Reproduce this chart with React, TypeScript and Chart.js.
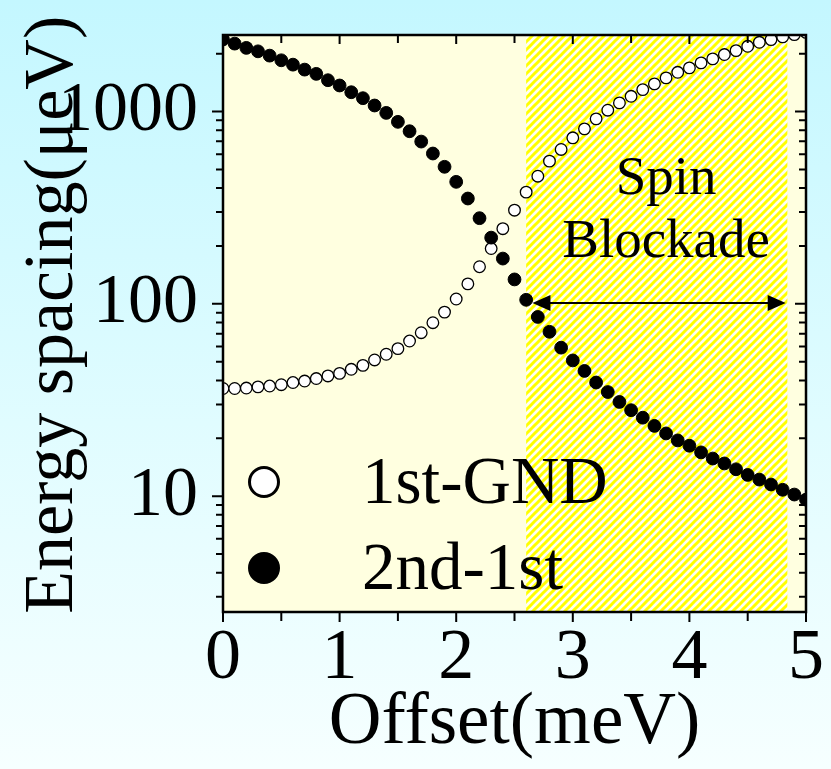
import React, { useEffect, useRef } from "react";
import { Chart, registerables } from "chart.js";

Chart.register(...registerables);

// ---- data ----
const OFFSET = [
  0, 0.1, 0.2, 0.3, 0.4, 0.5, 0.6, 0.7, 0.8, 0.9,
  1.0, 1.1, 1.2, 1.3, 1.4, 1.5, 1.6, 1.7, 1.8, 1.9,
  2.0, 2.1, 2.2, 2.3, 2.4, 2.5, 2.6, 2.7, 2.8, 2.9,
  3.0, 3.1, 3.2, 3.3, 3.4, 3.5, 3.6, 3.7, 3.8, 3.9,
  4.0, 4.1, 4.2, 4.3, 4.4, 4.5, 4.6, 4.7, 4.8, 4.9, 5.0,
];
const GND_1ST = [
  36.3, 36.3, 36.5, 37.0, 37.4, 38.0, 39.0, 39.7, 40.9, 42.2,
  43.5, 45.7, 47.9, 51.1, 54.7, 58.5, 64.1, 70.8, 79.8, 90.6,
  106, 127, 156, 194, 246, 307, 381, 461, 552, 635,
  730, 813, 916, 1016, 1109, 1200, 1300, 1392, 1496, 1600,
  1686, 1790, 1878, 1978, 2074, 2184, 2291, 2366, 2444, 2512, 2580,
];
const FIRST_2ND = [
  2370, 2255, 2143, 2056, 1953, 1847, 1753, 1652, 1570, 1455,
  1366, 1260, 1173, 1075, 984, 884, 790, 698, 605, 516,
  431, 353, 279, 221, 172, 134, 105, 85.5, 71.6, 59.2,
  50.8, 44.8, 39.0, 34.8, 30.9, 28.0, 25.6, 23.2, 21.2, 19.5,
  18.3, 16.9, 15.7, 14.8, 13.8, 12.9, 12.2, 11.5, 10.8, 10.2, 9.6,
];
const SERIES_LABELS = ["1st-GND", "2nd-1st"];
const X_MAJOR = [0, 1, 2, 3, 4, 5];
const X_MINOR = [0.5, 1.5, 2.5, 3.5, 4.5];
const Y_LABELS = [10, 100, 1000];
const Y_MINOR = [3, 4, 5, 6, 7, 8, 9, 20, 30, 40, 50, 60, 70, 80, 90, 200, 300, 400, 500, 600, 700, 800, 900, 2000];
const X_RANGE = [0, 5];
const Y_RANGE = [2.5, 2500];
const BLOCKADE_RANGE = [2.6, 4.84];
const ARROW_X = [2.654, 4.826];
const ARROW_Y = 101;
const NOTE_X = 3.8;
const NOTE_LINES = ["Spin", "Blockade"];
const NOTE_Y = [371, 175];

const SERIF = "'Liberation Serif', 'Times New Roman', serif";

function makeHatch(ctx: CanvasRenderingContext2D) {
  const s = 8;
  const c = document.createElement("canvas");
  c.width = s;
  c.height = s;
  const g = c.getContext("2d")!;
  g.fillStyle = "#fffff4";
  g.fillRect(0, 0, s, s);
  g.strokeStyle = "#ffff00";
  g.lineWidth = 3;
  g.beginPath();
  g.moveTo(-2, s + 2);
  g.lineTo(s + 2, -2);
  g.moveTo(-2, 2);
  g.lineTo(2, -2);
  g.moveTo(s - 2, s + 2);
  g.lineTo(s + 2, s - 2);
  g.stroke();
  return ctx.createPattern(c, "repeat")!;
}

const decor = {
  id: "decor",
  beforeDatasetsDraw(chart: any) {
    const { ctx, chartArea: a, scales } = chart;
    const x = scales.x;
    ctx.save();
    ctx.fillStyle = "#ffffe0";
    ctx.fillRect(a.left, a.top, a.right - a.left, a.bottom - a.top);
    const x0 = x.getPixelForValue(BLOCKADE_RANGE[0]);
    const x1 = x.getPixelForValue(BLOCKADE_RANGE[1]);
    ctx.fillStyle = makeHatch(ctx);
    ctx.fillRect(x0, a.top, x1 - x0, a.bottom - a.top);
    ctx.restore();
  },
  afterDatasetsDraw(chart: any) {
    const { ctx, chartArea: a, scales } = chart;
    const x = scales.x;
    const y = scales.y;
    ctx.save();

    // arrow
    const ay = y.getPixelForValue(ARROW_Y);
    const ax0 = x.getPixelForValue(ARROW_X[0]);
    const ax1 = x.getPixelForValue(ARROW_X[1]);
    const hl = 18, hw = 8;
    ctx.strokeStyle = "#000";
    ctx.fillStyle = "#000";
    ctx.lineWidth = 2;
    ctx.beginPath();
    ctx.moveTo(ax0 + hl - 2, ay);
    ctx.lineTo(ax1 - hl + 2, ay);
    ctx.stroke();
    ctx.beginPath();
    ctx.moveTo(ax0, ay);
    ctx.lineTo(ax0 + hl, ay - hw);
    ctx.lineTo(ax0 + hl, ay + hw);
    ctx.closePath();
    ctx.fill();
    ctx.beginPath();
    ctx.moveTo(ax1, ay);
    ctx.lineTo(ax1 - hl, ay - hw);
    ctx.lineTo(ax1 - hl, ay + hw);
    ctx.closePath();
    ctx.fill();

    // note text
    ctx.font = `55px ${SERIF}`;
    ctx.textAlign = "center";
    ctx.textBaseline = "alphabetic";
    const nx = x.getPixelForValue(NOTE_X);
    NOTE_LINES.forEach((t, i) => ctx.fillText(t, nx, y.getPixelForValue(NOTE_Y[i])));

    // legend
    const ds = chart.data.datasets;
    const lx = a.left + 41;
    const rows = [a.bottom - 130, a.bottom - 44];
    ctx.font = `67px ${SERIF}`;
    ctx.textAlign = "left";
    rows.forEach((ry: number, i: number) => {
      ctx.beginPath();
      ctx.arc(lx, ry, 14.5, 0, Math.PI * 2);
      ctx.fillStyle = ds[i].pointBackgroundColor;
      ctx.fill();
      ctx.lineWidth = 3;
      ctx.strokeStyle = "#000";
      ctx.stroke();
      ctx.fillStyle = "#000";
      ctx.fillText(ds[i].label, a.left + 139, ry + 21);
    });

    // frame and ticks
    ctx.strokeStyle = "#000";
    ctx.lineWidth = 2.5;
    ctx.strokeRect(a.left, a.top, a.right - a.left, a.bottom - a.top);
    ctx.lineWidth = 2;
    ctx.beginPath();
    const xt = (v: number, len: number) => {
      const px = x.getPixelForValue(v);
      ctx.moveTo(px, a.bottom);
      ctx.lineTo(px, a.bottom + len);
      ctx.moveTo(px, a.top);
      ctx.lineTo(px, a.top + len - 1);
    };
    X_MAJOR.forEach((v) => xt(v, 10));
    X_MINOR.forEach((v) => xt(v, 9));
    const yt = (v: number, len: number) => {
      const py = y.getPixelForValue(v);
      ctx.moveTo(a.left, py);
      ctx.lineTo(a.left - len, py);
      ctx.moveTo(a.right, py);
      ctx.lineTo(a.right - len, py);
    };
    Y_LABELS.forEach((v) => yt(v, 11));
    Y_MINOR.forEach((v) => yt(v, 7));
    ctx.stroke();
    ctx.restore();
  },
};

export default function App() {
  const ref = useRef<HTMLCanvasElement | null>(null);

  useEffect(() => {
    const canvas = ref.current;
    if (!canvas) return;
    const chart = new Chart(canvas, {
      type: "scatter",
      data: {
        datasets: [
          {
            label: SERIES_LABELS[0],
            data: OFFSET.map((o, i) => ({ x: o, y: GND_1ST[i] })),
            pointRadius: 5.8,
            pointBorderWidth: 1.3,
            pointBackgroundColor: "#ffffff",
            pointBorderColor: "#000000",
            showLine: false,
            clip: 0,
            order: 1,
          } as any,
          {
            label: SERIES_LABELS[1],
            data: OFFSET.map((o, i) => ({ x: o, y: FIRST_2ND[i] })),
            pointRadius: 6.4,
            pointBorderWidth: 1,
            pointBackgroundColor: "#000000",
            pointBorderColor: "#000000",
            showLine: false,
            clip: 0,
            order: 0,
          } as any,
        ],
      },
      options: {
        responsive: false,
        animation: false,
        devicePixelRatio: 1,
        events: [],
        layout: { padding: { top: 35, right: 25, left: 0, bottom: 0 } },
        plugins: {
          legend: { display: false },
          tooltip: { enabled: false },
        },
        scales: {
          x: {
            type: "linear",
            position: "bottom",
            min: X_RANGE[0],
            max: X_RANGE[1],
            afterFit: (s: any) => {
              s.height = 157;
            },
            grid: { display: false, drawTicks: false },
            border: { display: false },
            ticks: {
              stepSize: 1,
              autoSkip: false,
              maxRotation: 0,
              padding: 0,
              color: "#000",
              font: { family: SERIF, size: 72, lineHeight: 1.3 },
              callback: (v: any) => (X_MAJOR.includes(Number(v)) ? String(v) : ""),
            },
            title: {
              display: true,
              text: "Offset(meV)",
              color: "#000",
              font: { family: SERIF, size: 73, lineHeight: 1 },
              padding: { top: 0, bottom: 9 },
            },
          },
          y: {
            type: "logarithmic",
            min: Y_RANGE[0],
            max: Y_RANGE[1],
            afterFit: (s: any) => {
              s.width = 223;
            },
            grid: { display: false, drawTicks: false },
            border: { display: false },
            ticks: {
              autoSkip: false,
              padding: 25,
              color: "#000",
              font: { family: SERIF, size: 70, lineHeight: 0.1 },
              callback: (v: any) => {
                const n = Number(v);
                const hit = Y_LABELS.find((l) => Math.abs(n - l) / l < 1e-6);
                return hit !== undefined ? String(hit) : "";
              },
            },
            title: {
              display: true,
              text: " Energy spacing(μeV)",
              color: "#000",
              font: { family: SERIF, size: 70, lineHeight: 1 },
              padding: { top: 19, bottom: 0 },
            },
          },
        },
      } as any,
      plugins: [decor],
    });
    return () => chart.destroy();
  }, []);

  return (
    <div
      style={{
        position: "fixed",
        left: 0,
        top: 0,
        width: 831,
        height: 769,
        background: "linear-gradient(180deg, #c4f7ff 0%, #e0fcff 55%, #f6ffff 100%)",
      }}
    >
      <canvas ref={ref} width={831} height={769} style={{ display: "block" }} />
    </div>
  );
}
